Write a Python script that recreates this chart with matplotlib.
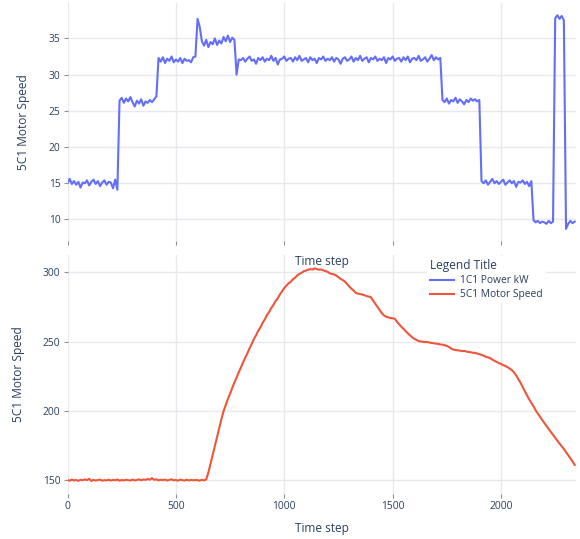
import numpy as np
from matplotlib import pyplot as plt

plt.rcParams["font.family"] = ["Open Sans", "DejaVu Sans"]

# %%
# sampled every 10 time steps
step = 10

power_kw = [
    15.0, 15.6, 14.9, 15.3, 14.8, 15.2, 14.4, 15.1, 15.0, 15.4,
    14.7, 15.2, 15.5, 14.9, 15.3, 14.6, 15.1, 15.4, 14.8, 15.2,
    15.1, 14.3, 15.5, 14.1, 26.4, 26.8, 26.1, 26.7, 26.3, 26.9,
    26.2, 25.6, 26.4, 26.0, 26.6, 25.7, 26.3, 26.1, 26.5, 26.2,
    26.6, 27.0, 32.3, 31.8, 32.4, 31.6, 32.2, 31.9, 32.5, 31.7,
    32.1, 31.8, 32.3, 31.6, 32.2, 31.9, 32.0, 31.7, 32.4, 32.5,
    37.7, 36.6, 34.6, 34.0, 34.8, 33.8, 34.5, 34.2, 35.0, 34.1,
    34.7, 34.3, 35.2, 34.6, 35.4, 34.5, 35.1, 34.8, 30.0, 32.1,
    32.0, 32.3, 31.8, 32.2, 32.5, 31.9, 32.1, 31.5, 32.3, 32.0,
    32.4, 31.8, 32.2, 32.0, 32.6, 31.9, 32.3, 31.4, 32.1, 32.2,
    32.5, 31.9, 32.2, 32.3, 31.8, 32.4, 32.0, 32.6, 31.9, 32.1,
    32.3, 31.7, 32.4, 32.0, 32.2, 31.6, 32.3, 32.1, 32.5, 31.9,
    32.2, 32.0, 32.4, 31.8, 32.3, 32.1, 31.5, 32.2, 32.4, 31.9,
    32.1, 32.5, 31.8, 32.3, 32.0, 32.6, 31.9, 32.2, 32.4, 31.7,
    32.3, 32.1, 32.5, 31.9, 32.2, 32.0, 32.4, 31.6, 32.3, 32.1,
    32.5, 31.9, 32.2, 32.3, 31.8, 32.4, 32.0, 32.5, 31.7, 32.2,
    32.3, 32.0, 32.6, 31.9, 32.1, 32.4, 31.8, 32.2, 32.7, 32.0,
    32.4, 32.1, 32.3, 26.5, 26.2, 26.7, 26.0, 26.5, 26.3, 26.8,
    26.1, 26.6, 26.3, 25.9, 26.5, 26.2, 26.7, 26.4, 26.6, 26.3,
    26.5, 15.3, 15.0, 15.4, 14.8, 15.2, 15.6, 15.0, 15.3, 14.9,
    15.2, 15.5, 14.8, 15.1, 15.4, 15.0, 15.3, 14.5, 15.2, 15.1,
    15.4, 14.9, 15.2, 14.6, 15.3, 9.9, 9.6, 9.8, 9.5, 9.7,
    9.6, 9.4, 9.8, 9.5, 9.7, 37.8, 38.2, 37.7, 38.1, 37.5,
    8.7, 9.4, 9.8, 9.5, 9.7,
]

motor_speed = [
    150.2, 149.6, 150.4, 149.8, 150.1, 149.5, 150.3, 149.9, 150.6, 150.0,
    151.0, 149.4, 150.2, 149.7, 150.1, 150.4, 149.6, 150.0, 149.8, 150.3,
    149.7, 150.2, 149.9, 150.5, 149.6, 150.1, 149.8, 150.3, 150.0, 149.7,
    150.4, 149.8, 150.1, 150.6, 149.9, 150.5, 150.2, 150.8, 150.3, 151.4,
    150.2, 150.6, 149.8, 150.3, 150.0, 150.4, 149.7, 150.2, 150.6, 149.9,
    150.1, 149.6, 150.4, 150.0, 149.7, 150.3, 149.8, 150.2, 149.9, 150.1,
    150.0, 149.6, 150.3, 149.8, 150.6, 155.6, 162.0, 168.4, 174.8, 181.2,
    187.6, 194.0, 199.8, 204.3, 208.6, 212.4, 216.5, 220.6, 224.0, 227.8,
    231.3, 235.0, 238.4, 241.6, 245.2, 248.3, 251.8, 254.6, 257.8, 260.3,
    263.5, 266.0, 269.1, 271.3, 274.2, 276.5, 279.3, 281.2, 284.1, 286.3,
    288.7, 290.4, 292.1, 293.2, 295.0, 296.1, 297.8, 298.9, 299.6, 300.8,
    301.2, 301.9, 302.3, 302.0, 302.8, 302.4, 301.9, 302.1, 301.4, 300.9,
    300.4, 299.3, 298.8, 298.5, 297.6, 296.5, 295.2, 294.4, 293.3, 291.5,
    289.8, 288.2, 286.9, 285.2, 284.6, 284.3, 283.9, 283.5, 282.8, 282.5,
    282.0, 279.6, 277.3, 275.0, 272.8, 270.6, 268.9, 268.0, 267.4, 267.1,
    266.8, 266.5, 264.3, 262.5, 260.8, 259.2, 257.6, 256.0, 254.6, 253.1,
    252.0, 251.2, 250.4, 250.1, 249.9, 249.6, 249.7, 249.3, 249.0, 248.8,
    248.5, 248.4, 247.9, 247.8, 247.4, 246.9, 246.1, 245.0, 244.3, 243.9,
    243.7, 243.5, 243.1, 243.3, 242.8, 242.5, 242.3, 242.0, 241.8, 241.4,
    240.9, 240.4, 239.8, 239.0, 238.6, 238.1, 237.0, 236.1, 235.3, 234.5,
    233.9, 233.0, 232.4, 231.6, 230.5, 229.4, 227.8, 225.6, 223.0, 220.3,
    217.3, 214.1, 211.2, 208.3, 205.8, 203.3, 200.4, 198.0, 195.8, 193.4,
    191.2, 189.0, 186.9, 184.8, 182.6, 180.5, 178.4, 176.4, 174.5, 172.5,
    170.2, 168.0, 165.8, 163.4, 161.0,
]

x_ticks = [0, 500, 1000, 1500, 2000]
top_y_ticks = [10, 15, 20, 25, 30, 35]
bottom_y_ticks = [150, 200, 250, 300]

# %%
time_step = np.arange(len(power_kw)) * step

text_color = "#2a3f5f"
grid_color = "#e6e9ee"

fig = plt.figure(figsize=(5.8, 5.39), dpi=100)
ax1 = fig.add_axes([0.1164, 0.5525, 0.8767, 0.4414])
ax2 = fig.add_axes([0.1164, 0.0835, 0.8767, 0.4434])
ax2.set_facecolor("none")

ax1.plot(time_step, power_kw, color="#636efa", lw=1.5, label="1C1 Power kW")
ax2.plot(time_step, motor_speed, color="#EF553B", lw=1.5, label="5C1 Motor Speed")

ax1.set_ylim(7.0, 39.85)
ax2.set_ylim(140.0, 312.5)
ax1.set_yticks(top_y_ticks)
ax2.set_yticks(bottom_y_ticks)

for ax in (ax1, ax2):
    ax.set_xlim(0, 2346)
    ax.set_xticks(x_ticks)
    ax.grid(True, color=grid_color, lw=1.0)
    ax.set_axisbelow(True)
    for s in ax.spines.values():
        s.set_visible(False)
    ax.tick_params(length=3, width=0.8, color="#8a8f99", pad=2,
                   labelsize=7.4, labelcolor=text_color)
    ax.set_xlabel("Time step", fontsize=8.6, color=text_color)
    ax.set_ylabel("5C1 Motor Speed", fontsize=8.6, color=text_color)

ax1.tick_params(axis="x", labelbottom=False)
ax1.xaxis.set_label_coords(0.5, -0.06)
ax2.xaxis.set_label_coords(0.5, -0.118)
ax1.yaxis.set_label_coords(-0.074, 0.5)
ax2.yaxis.set_label_coords(-0.084, 0.5)

handles = ax1.get_legend_handles_labels()[0] + ax2.get_legend_handles_labels()[0]
labels = ["1C1 Power kW", "5C1 Motor Speed"]
leg = fig.legend(handles, labels, title="Legend Title", loc="upper left",
                 bbox_to_anchor=(427 / 580, 1 - 256 / 539), frameon=True,
                 fontsize=7.4, title_fontsize=8.6, alignment="left",
                 handlelength=2.3, handletextpad=0.6, labelspacing=0.3,
                 borderpad=0.3, borderaxespad=0)
leg.get_frame().set_facecolor("white")
leg.get_frame().set_edgecolor("none")
leg.get_frame().set_alpha(1)
leg.get_frame().set_boxstyle("square", pad=0)
for t in leg.get_texts():
    t.set_color(text_color)
leg.get_title().set_color(text_color)

fig.savefig("out.png", dpi=100)
